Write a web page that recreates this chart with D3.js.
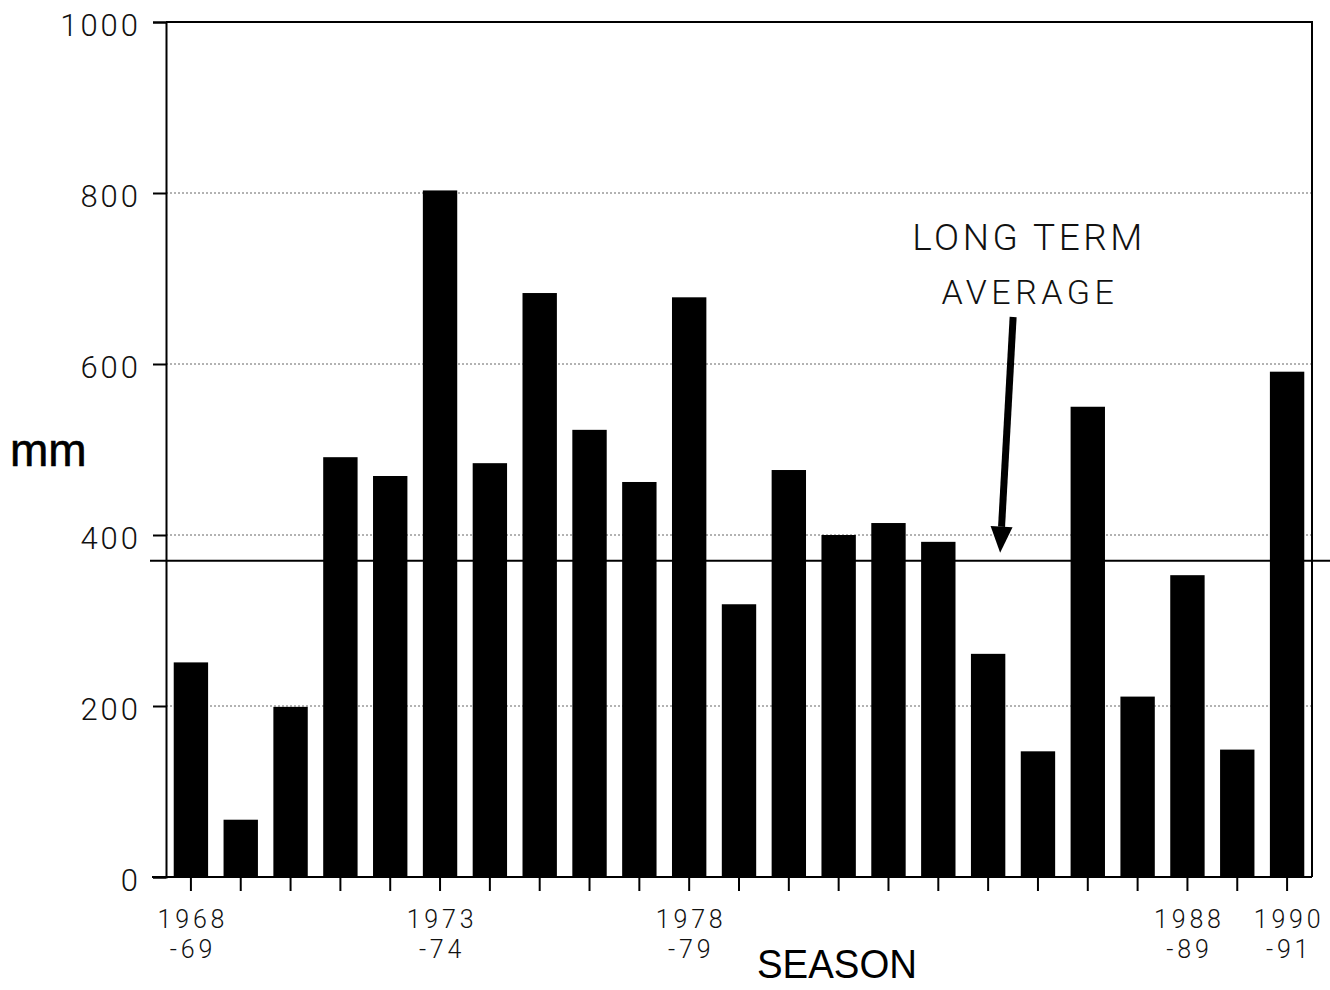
<!DOCTYPE html>
<html>
<head>
<meta charset="utf-8">
<script src="https://cdn.jsdelivr.net/npm/d3@7/dist/d3.min.js"></script>
<style>
  html, body { margin: 0; padding: 0; background: #fff; }
  svg { display: block; }
  .ylabel { font-family: "Roboto", "Liberation Sans", Arial, sans-serif; font-weight: 300; font-size: 31px; letter-spacing: 3px; fill: #111; }
  .xlabel { font-family: "Roboto", "Liberation Sans", Arial, sans-serif; font-weight: 300; font-size: 25px; letter-spacing: 3.8px; fill: #111; }
  .axis-title { font-family: "Liberation Sans", Arial, sans-serif; fill: #000; }
  .note { font-family: "Roboto", "Liberation Sans", Arial, sans-serif; font-weight: 300; fill: #111; }
</style>
</head>
<body>
<svg id="chart" width="1330" height="990"></svg>
<script>
// Seasonal rainfall totals (mm), one per season from 1968-69 to 1990-91
const seasons = [
  "1968-69","1969-70","1970-71","1971-72","1972-73","1973-74","1974-75","1975-76",
  "1976-77","1977-78","1978-79","1979-80","1980-81","1981-82","1982-83","1983-84",
  "1984-85","1985-86","1986-87","1987-88","1988-89","1989-90","1990-91"
];
const rainfall = [
  251, 67, 199, 491, 469, 803, 484, 683,
  523, 462, 678, 319, 476, 400, 414, 392,
  261, 147, 550, 211, 353, 149, 591
];
const longTermAverage = 370;

// Axis labelling
const yTicks = [0, 200, 400, 600, 800, 1000];
const gridValues = [200, 400, 600, 800];
const labelledSeasons = ["1968-69", "1973-74", "1978-79", "1988-89", "1990-91"];

const svg = d3.select("#chart");
const plotLeft = 166, plotRight = 1312, plotTop = 22, plotBottom = 877;

const x = d3.scaleBand()
  .domain(seasons)
  .range([plotLeft, plotRight])
  .paddingInner(0.31)
  .paddingOuter(0.155);
const xc = d => x(d) + x.bandwidth() / 2;

const y = d3.scaleLinear().domain([0, 1000]).range([plotBottom, plotTop]);

// dotted gridlines
svg.append("g").selectAll("line").data(gridValues).join("line")
  .attr("x1", plotLeft).attr("x2", plotRight)
  .attr("y1", d => y(d)).attr("y2", d => y(d))
  .attr("stroke", "#666").attr("stroke-width", 1)
  .attr("stroke-dasharray", "2,2");

// bars
svg.append("g").selectAll("rect").data(seasons).join("rect")
  .attr("x", d => x(d))
  .attr("width", x.bandwidth())
  .attr("y", (d, i) => y(rainfall[i]))
  .attr("height", (d, i) => y(0) - y(rainfall[i]))
  .attr("fill", "#000");

// frame: top and right edges
svg.append("path")
  .attr("d", `M${plotLeft},${y(1000)}H${plotRight}V${y(0)}`)
  .attr("fill", "none").attr("stroke", "#000").attr("stroke-width", 2);

// y axis
const yAxis = d3.axisLeft(y).tickValues(yTicks).tickSize(13).tickPadding(12).tickFormat(d3.format("d"));
const gy = svg.append("g").attr("transform", `translate(${plotLeft},0)`).call(yAxis);
gy.attr("font-size", null).attr("font-family", null);
gy.select(".domain").attr("stroke", "#000").attr("stroke-width", 2);
gy.selectAll(".tick line").attr("stroke", "#000").attr("stroke-width", 2);
gy.selectAll(".tick text").attr("class", "ylabel").attr("dy", "0.42em");

// x axis baseline and ticks
const gx = svg.append("g");
gx.append("line")
  .attr("x1", plotLeft - 14).attr("x2", plotRight)
  .attr("y1", y(0)).attr("y2", y(0))
  .attr("stroke", "#000").attr("stroke-width", 2);
gx.selectAll("line.xt").data(seasons).join("line").attr("class", "xt")
  .attr("x1", xc).attr("x2", xc)
  .attr("y1", y(0)).attr("y2", y(0) + 14)
  .attr("stroke", "#000").attr("stroke-width", 2);

// two-line season labels: start year over the ending "-yy"
gx.selectAll("text.yr").data(labelledSeasons).join("text")
  .attr("class", "xlabel yr")
  .attr("text-anchor", "middle")
  .attr("x", d => xc(d) + 2)
  .attr("y", y(0) + 51)
  .text(d => d.split("-")[0]);
gx.selectAll("text.yy").data(labelledSeasons).join("text")
  .attr("class", "xlabel yy")
  .attr("text-anchor", "middle")
  .attr("x", d => xc(d) + 2)
  .attr("y", y(0) + 81)
  .text(d => "-" + d.split("-")[1]);

// long-term average line
svg.append("line")
  .attr("x1", plotLeft - 16).attr("x2", 1330)
  .attr("y1", y(longTermAverage)).attr("y2", y(longTermAverage))
  .attr("stroke", "#000").attr("stroke-width", 2);

// annotation with arrow pointing at the average line
const tipX = xc("1984-85") + 12;
const tipY = y(longTermAverage) - 8;
const tailX = tipX + 13, tailY = y(655);
const ang = Math.atan2(tipY - tailY, tipX - tailX);
const headLen = 26, headW = 11;
const bx = tipX - headLen * Math.cos(ang), by = tipY - headLen * Math.sin(ang);
svg.append("line")
  .attr("x1", tailX).attr("y1", tailY).attr("x2", bx).attr("y2", by)
  .attr("stroke", "#000").attr("stroke-width", 7);
svg.append("path")
  .attr("d", `M${tipX},${tipY}L${bx + headW * Math.sin(ang)},${by - headW * Math.cos(ang)}L${bx - headW * Math.sin(ang)},${by + headW * Math.cos(ang)}Z`)
  .attr("fill", "#000");

svg.append("text").attr("class", "note").attr("text-anchor", "middle")
  .attr("font-size", 37).attr("letter-spacing", 3.5)
  .attr("x", 1029).attr("y", 250).text("LONG TERM");
svg.append("text").attr("class", "note").attr("text-anchor", "middle")
  .attr("font-size", 34).attr("letter-spacing", 4.5)
  .attr("x", 1030).attr("y", 304).text("AVERAGE");

// axis titles
svg.append("text").attr("class", "axis-title")
  .attr("x", 10).attr("y", 466).attr("font-size", 46)
  .attr("stroke", "#000").attr("stroke-width", 0.6).text("mm");
svg.append("text").attr("class", "axis-title")
  .attr("x", 757).attr("y", 978).attr("font-size", 41)
  .attr("textLength", 160).attr("lengthAdjust", "spacingAndGlyphs").text("SEASON");
</script>
</body>
</html>
